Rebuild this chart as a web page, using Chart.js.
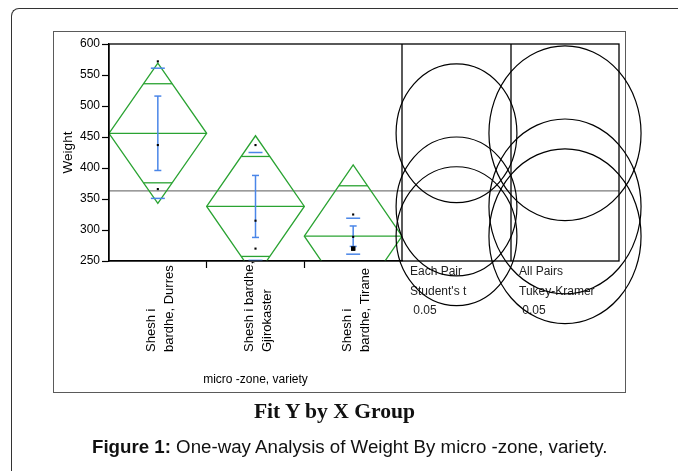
<!DOCTYPE html>
<html>
<head>
<meta charset="utf-8">
<title>One-way Analysis of Weight By micro -zone, variety</title>
<script src="https://cdn.jsdelivr.net/npm/chart.js@4/dist/chart.umd.min.js"></script>
<style>
  html, body { margin: 0; padding: 0; background: #fff; }
  #fig { position: relative; width: 678px; height: 471px; overflow: hidden; background: #fff; }
  #outer { position: absolute; left: 11px; top: 8px; width: 760px; height: 560px;
           border-left: 1.6px solid #333; border-top: 1.6px solid #333; border-top-left-radius: 8px; }
  #frame { position: absolute; left: 53px; top: 31px; width: 573px; height: 362px; box-sizing: border-box;
           border: 1.5px solid #5a5a5a; }
  #chart { position: absolute; left: 0; top: 0; }
  #title { position: absolute; left: 0; width: 669px; top: 399px; line-height: 24px; text-align: center;
           font: bold 21.6px "Liberation Serif", "Times New Roman", serif; color: #111; white-space: nowrap; }
  #caption { position: absolute; left: 92px; top: 436px; line-height: 22px; white-space: nowrap;
             font: 18.7px "Liberation Sans", Arial, sans-serif; color: #111; }
</style>
</head>
<body>
<div id="fig">
  <div id="outer"></div>
  <div id="frame"></div>
  <canvas id="chart" width="678" height="471"></canvas>
  <div id="title">Fit Y by X Group</div>
  <div id="caption"><b>Figure 1:</b> One-way Analysis of Weight By micro -zone, variety.</div>
</div>
<script>
// Groups (micro-zone, variety), each label wrapped over two lines
const categoryLines = [
  ['Shesh i', 'bardhe, Durres'],
  ['Shesh i bardhe,', 'Gjirokaster'],
  ['Shesh i', 'bardhe, Tirane']
];

// Observed weights per group
const weightsDurres = [572, 437, 366];
const weightsGjirokaster = [437, 315, 270];
const weightsTirane = [325, 289, 270, 270];

// Group summaries: means, 95% CI half-widths (diamonds), std dev, std error
const groupMeans = [456, 338, 290];
const meanCI95 = [113, 114, 115];
const stdDevs = [105, 87, 29];
const stdErrors = [60, 50, 16.5];
const grandMean = 363;

// Y axis ticks
const yTicks = [250, 300, 350, 400, 450, 500, 550, 600];

// Comparison circles: panel captions and circle radii (Weight units)
const panelLabels = [
  ['Each Pair', "Student's t", ' 0.05'],
  ['All Pairs', 'Tukey-Kramer', ' 0.05']
];
const circleRadii = [112, 141];

const xAxisTitle = 'micro -zone, variety';
const yAxisTitle = 'Weight';

// ---- styling / layout ----
const FONT = "'Liberation Sans', Arial, sans-serif";
const GREEN = '#2aa332';
const BLUE = '#4a86e8';
const PANEL_WIDTHS = [109, 108];
const ELLIPSE_X_RATIO = 0.87;

Chart.defaults.font.family = FONT;
Chart.defaults.color = '#000';

const categoryNames = categoryLines.map(l => l.join(' '));
const groups = [weightsDurres, weightsGjirokaster, weightsTirane];
const points = [];
groups.forEach((vals, i) => vals.forEach(v => points.push({ x: categoryNames[i], y: v })));

// overlapping observations are drawn as a bigger square
function pointRadius(ctx) {
  const p = ctx.raw;
  if (!p) return 1.5;
  const n = points.filter(q => q.x === p.x && q.y === p.y).length;
  return n > 1 ? 3 : 1.5;
}

const oneWayPlugin = {
  id: 'oneWay',
  beforeDatasetsDraw(chart) {
    const { ctx, chartArea: a, scales: { x, y } } = chart;
    const catW = x.getPixelForValue(1) - x.getPixelForValue(0);
    const panelRight = a.right + PANEL_WIDTHS[0] + PANEL_WIDTHS[1];

    // grand mean across the plot and the comparison panels
    ctx.save();
    ctx.strokeStyle = '#7a7a7a';
    ctx.lineWidth = 1.2;
    const gy = y.getPixelForValue(grandMean);
    ctx.beginPath();
    ctx.moveTo(a.left, gy);
    ctx.lineTo(panelRight, gy);
    ctx.stroke();
    ctx.restore();

    ctx.save();
    ctx.beginPath();
    ctx.rect(a.left, a.top, a.right - a.left, a.bottom - a.top);
    ctx.clip();

    groupMeans.forEach((m, i) => {
      const cx = x.getPixelForValue(i);
      const left = cx - catW / 2, right = cx + catW / 2;
      const ci = meanCI95[i];
      const my = y.getPixelForValue(m);

      // means diamond
      ctx.strokeStyle = GREEN;
      ctx.lineWidth = 1.3;
      ctx.beginPath();
      ctx.moveTo(left, my);
      ctx.lineTo(cx, y.getPixelForValue(m + ci));
      ctx.lineTo(right, my);
      ctx.lineTo(cx, y.getPixelForValue(m - ci));
      ctx.closePath();
      ctx.stroke();

      // mean line
      ctx.beginPath();
      ctx.moveTo(left, my);
      ctx.lineTo(right, my);
      ctx.stroke();

      // overlap marks
      const d = ci / Math.SQRT2;
      const half = (catW / 2) * (1 - d / ci);
      [1, -1].forEach(s => {
        const yy = y.getPixelForValue(m + s * d);
        ctx.beginPath();
        ctx.moveTo(cx - half, yy);
        ctx.lineTo(cx + half, yy);
        ctx.stroke();
      });

      // std dev lines and mean error bars
      ctx.strokeStyle = BLUE;
      ctx.lineWidth = 1.5;
      [1, -1].forEach(s => {
        const ys = y.getPixelForValue(m + s * stdDevs[i]);
        ctx.beginPath();
        ctx.moveTo(cx - 7, ys);
        ctx.lineTo(cx + 7, ys);
        ctx.stroke();
        const ye = y.getPixelForValue(m + s * stdErrors[i]);
        ctx.beginPath();
        ctx.moveTo(cx - 3.5, ye);
        ctx.lineTo(cx + 3.5, ye);
        ctx.stroke();
      });
      ctx.beginPath();
      ctx.moveTo(cx, y.getPixelForValue(m + stdErrors[i]));
      ctx.lineTo(cx, y.getPixelForValue(m - stdErrors[i]));
      ctx.stroke();
    });
    ctx.restore();
  },
  afterDraw(chart) {
    const { ctx, chartArea: a, scales: { x, y } } = chart;
    const p1 = a.right + PANEL_WIDTHS[0];
    const p2 = p1 + PANEL_WIDTHS[1];

    // plot frame and panel dividers
    ctx.save();
    ctx.strokeStyle = '#000';
    ctx.lineWidth = 1.3;
    ctx.strokeRect(a.left, a.top, p2 - a.left, a.bottom - a.top);
    [a.right, p1].forEach(px => {
      ctx.beginPath();
      ctx.moveTo(px, a.top);
      ctx.lineTo(px, a.bottom);
      ctx.stroke();
    });

    // panel captions
    ctx.fillStyle = '#222';
    ctx.font = '12px ' + FONT;
    ctx.textAlign = 'left';
    ctx.textBaseline = 'middle';
    [a.right, p1].forEach((px, k) => {
      panelLabels[k].forEach((t, j) => {
        ctx.fillText(t, px + 8, a.bottom + 11 + j * 19.5);
      });
    });

    // comparison circles
    ctx.strokeStyle = '#000';
    ctx.lineWidth = 1.2;
    [[a.right, p1], [p1, p2]].forEach(([l, r], k) => {
      const pcx = (l + r) / 2;
      groupMeans.forEach(m => {
        const cy = y.getPixelForValue(m);
        const ry = y.getPixelForValue(m - circleRadii[k]) - cy;
        ctx.beginPath();
        ctx.ellipse(pcx, cy, ry * ELLIPSE_X_RATIO, ry, 0, 0, Math.PI * 2);
        ctx.stroke();
      });
    });

    // group labels, rotated and reading upward
    ctx.fillStyle = '#000';
    ctx.font = '13px ' + FONT;
    ctx.textAlign = 'left';
    ctx.textBaseline = 'middle';
    categoryLines.forEach((lines, i) => {
      const cx = x.getPixelForValue(i) + 2.8;
      lines.forEach((t, j) => {
        ctx.save();
        ctx.translate(cx + (j - (lines.length - 1) / 2) * 18, a.bottom + 91);
        ctx.rotate(-Math.PI / 2);
        ctx.fillText(t, 0, 0);
        ctx.restore();
      });
    });
    ctx.restore();
  }
};

new Chart(document.getElementById('chart'), {
  type: 'scatter',
  data: {
    labels: categoryNames,
    datasets: [{
      data: points,
      pointStyle: 'rect',
      pointRadius: pointRadius,
      pointBorderWidth: 0,
      pointBackgroundColor: '#000',
      pointBorderColor: '#000'
    }]
  },
  options: {
    responsive: false,
    devicePixelRatio: 1,
    animation: false,
    events: [],
    layout: { padding: { left: 55, top: 44, right: 276, bottom: 80 } },
    plugins: { legend: { display: false }, tooltip: { enabled: false } },
    scales: {
      x: {
        type: 'category',
        offset: true,
        grid: {
          offset: true,
          drawOnChartArea: false,
          tickLength: 7,
          tickWidth: 1.2,
          tickColor: c => (c.index === 1 || c.index === 2) ? '#000' : 'rgba(0,0,0,0)'
        },
        border: { display: true, color: '#000', width: 1.3 },
        ticks: { callback: () => '', maxRotation: 0, autoSkip: false },
        title: { display: true, text: xAxisTitle, font: { size: 12 }, color: '#000', padding: { top: 0, bottom: 4 } },
        afterFit: s => { s.height = 130; }
      },
      y: {
        min: 250,
        max: 600,
        afterBuildTicks: s => { s.ticks = yTicks.map(v => ({ value: v })); },
        grid: { drawOnChartArea: false, tickLength: 7, tickWidth: 1.2, tickColor: '#000' },
        border: { display: true, color: '#000', width: 1.3 },
        ticks: { font: { size: 12 }, color: '#000', padding: 2 },
        title: { display: true, text: yAxisTitle, font: { size: 13.5 }, color: '#000', padding: { top: 5, bottom: 0 } },
        afterFit: s => { s.width = 54; }
      }
    }
  },
  plugins: [oneWayPlugin]
});
</script>
</body>
</html>
